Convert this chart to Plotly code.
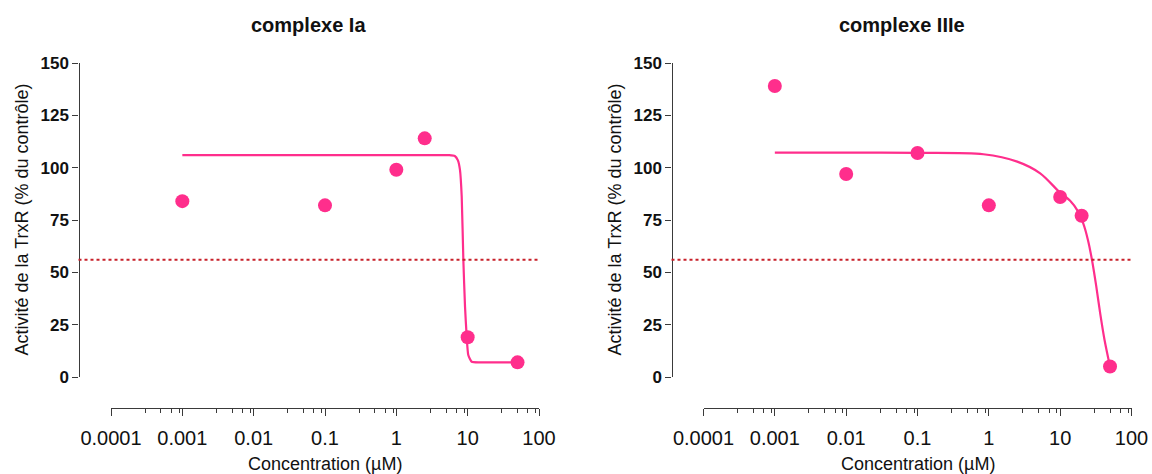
import plotly.graph_objects as go

# ---------------- data ----------------
conc_Ia = [0.001, 0.1, 1, 2.5, 10, 50]
act_Ia = [84, 82, 99, 114, 19, 7]
fit_x_Ia = [0.001, 0.1, 1, 3, 5.5, 6.6, 7.3, 7.8, 8.25, 8.7, 9.18, 9.69, 10.2, 11.4, 14.9, 50]
fit_y_Ia = [106, 106, 106, 106, 106, 105.6, 103.5, 98.9, 86.2, 55.9, 33.6, 19.3, 10.5, 7.3, 7, 7]

conc_IIIe = [0.001, 0.01, 0.1, 1, 10, 20, 50]
act_IIIe = [139, 97, 107, 82, 86, 77, 5]
fit_x_IIIe = [0.001, 0.01, 0.1, 0.84, 2.5, 5.25, 10, 13.8, 17.5, 21, 24.5, 27.9, 32, 36.4, 41.9, 50]
fit_y_IIIe = [107.2, 107.2, 107.1, 106.4, 102.9, 97.3, 88, 84.2, 79.5, 73.5, 65.5, 56, 43.5, 30.4, 17.7, 5]

threshold = 56
titles = ["complexe Ia", "complexe IIIe"]
y_title = "Activité de la TrxR (% du contrôle)"
x_title = "Concentration (µM)"
y_ticks = [0, 25, 50, 75, 100, 125, 150]
x_ticks = [0.0001, 0.001, 0.01, 0.1, 1, 10, 100]
x_ticktext = ["0.0001", "0.001", "0.01", "0.1", "1", "10", "100"]

# ---------------- layout geometry (pixels) ----------------
W, H = 1152, 474
PINK = "#FF2E8C"
DOT_RED = "#C8202A"
AXC = "#3a3a3a"
FONT = "Liberation Sans, Arial, Helvetica, sans-serif"

panels = [
    dict(yline=78.5, x0=111, x1=539),
    dict(yline=671.5, x0=703.5, x1=1131.5),
]
plot_top, plot_bot, xaxis_y = 63, 377, 408

def px(v):
    return v / W

def py(v):
    return 1 - v / H

minor_vals = [m * 10 ** e for e in range(-4, 2) for m in (3, 5, 7, 9)]

fig = go.Figure()
datasets = [
    (conc_Ia, act_Ia, fit_x_Ia, fit_y_Ia, 0.5),
    (conc_IIIe, act_IIIe, fit_x_IIIe, fit_y_IIIe, 0.9),
]

annotations = []
shapes = []
for i, (p, (cx, cy, fx, fy, sm)) in enumerate(zip(panels, datasets)):
    sfx = "" if i == 0 else str(i + 1)
    xa, ya = "x" + sfx, "y" + sfx
    fig.add_trace(go.Scatter(x=fx, y=fy, mode="lines", xaxis=xa, yaxis=ya,
                             line=dict(color=PINK, width=2.2, shape="spline", smoothing=sm),
                             hoverinfo="skip", showlegend=False))
    fig.add_trace(go.Scatter(x=cx, y=cy, mode="markers", xaxis=xa, yaxis=ya,
                             marker=dict(color=PINK, size=14, line=dict(width=0)),
                             cliponaxis=False, showlegend=False))
    fig.update_layout(**{
        "xaxis" + sfx: dict(
            type="log", range=[-4, 2], domain=[px(p["x0"]), px(p["x1"])],
            anchor="free", position=py(xaxis_y), automargin=False,
            showline=True, linecolor=AXC, linewidth=1.3,
            ticks="outside", ticklen=7, tickwidth=1.3, tickcolor=AXC,
            tickvals=x_ticks, ticktext=x_ticktext,
            tickfont=dict(family=FONT, size=20, color="#111"),
            ticklabelstandoff=5,
            minor=dict(tickvals=minor_vals, ticks="outside", ticklen=4,
                       tickwidth=1.2, tickcolor=AXC, showgrid=False),
            showgrid=False, zeroline=False,
        ),
        "yaxis" + sfx: dict(
            range=[0, 150], domain=[py(plot_bot), py(plot_top)],
            anchor="free", position=px(p["yline"]), automargin=False,
            showline=True, linecolor=AXC, linewidth=1.3,
            ticks="outside", ticklen=6, tickwidth=1.3, tickcolor=AXC,
            tickvals=y_ticks,
            tickfont=dict(family=FONT, size=17, color="#111", weight="bold"),
            showgrid=False, zeroline=False,
        ),
    })
    shapes.append(dict(type="line", xref=xa + " domain", yref=ya,
                       x0=(p["yline"] - p["x0"]) / (p["x1"] - p["x0"]), x1=1,
                       y0=threshold, y1=threshold,
                       line=dict(color=DOT_RED, width=1.8, dash="dot"), layer="above"))
    annotations.append(dict(text="<b>" + titles[i] + "</b>", xref="paper", yref="paper",
                            x=px((p["yline"] + p["x1"]) / 2), y=py(25),
                            xanchor="center", yanchor="middle", showarrow=False,
                            font=dict(family=FONT, size=20, color="#111")))
    annotations.append(dict(text=y_title, xref="paper", yref="paper",
                            x=px(p["yline"] - 57), y=py(220), textangle=-90,
                            xanchor="center", yanchor="middle", showarrow=False,
                            font=dict(family=FONT, size=18, color="#111")))
    annotations.append(dict(text=x_title, xref="paper", yref="paper",
                            x=px((p["x0"] + p["x1"]) / 2), y=py(464),
                            xanchor="center", yanchor="middle", showarrow=False,
                            font=dict(family=FONT, size=18, color="#111")))

fig.update_layout(
    width=W, height=H,
    margin=dict(l=0, r=0, t=0, b=0, pad=0, autoexpand=False),
    paper_bgcolor="white", plot_bgcolor="white",
    annotations=annotations, shapes=shapes,
    showlegend=False,
)

fig.write_html(
    "out.html",
    config={"displayModeBar": False},
    post_script="document.body.style.margin='0px';document.body.style.overflow='hidden';",
)
